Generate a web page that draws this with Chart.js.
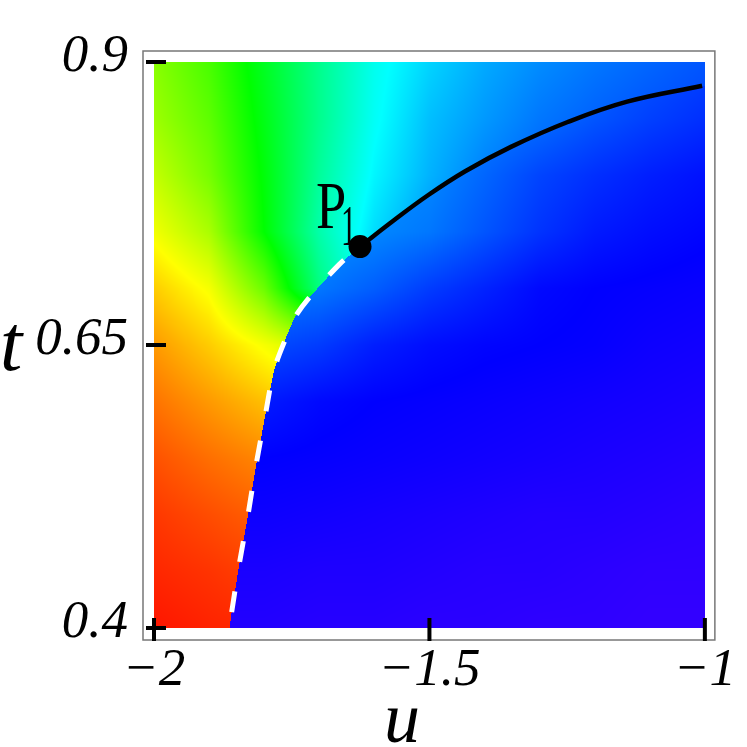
<!DOCTYPE html>
<html>
<head>
<meta charset="utf-8">
<script src="https://cdn.jsdelivr.net/npm/chart.js@4.4.1/dist/chart.umd.min.js"></script>
<style>
  body { margin: 0; background: #fff; }
  canvas { display: block; }
</style>
</head>
<body>
<canvas id="phaseChart" width="747" height="747"></canvas>
<script>
// axis ticks
const xTickValues = [-2, -1.5, -1];
const xTickLabels = ["\u22122", "\u22121.5", "\u22121"];
const yTickValues = [0.4, 0.65, 0.9];
const yTickLabels = ["0.4", "0.65", "0.9"];

// white dashed boundary, from bottom edge up to P1
const dashU = [-1.863, -1.859, -1.845, -1.830, -1.814, -1.798, -1.782, -1.760, -1.745, -1.718, -1.664, -1.626];
const dashT = [0.400, 0.414, 0.457, 0.498, 0.546, 0.588, 0.628, 0.657, 0.674, 0.692, 0.721, 0.737];

// black line, from P1 to the right edge
const lineU = [-1.626, -1.565, -1.502, -1.435, -1.352, -1.249, -1.141, -1.005];
const lineT = [0.737, 0.760, 0.7825, 0.8035, 0.825, 0.847, 0.865, 0.879];

// point P1
const p1U = -1.626;
const p1T = 0.737;

// colour field (hue in degrees) on a grid
const gridU = [-2, -1.9, -1.8, -1.7, -1.6, -1.5, -1.4, -1.3, -1.2, -1.1, -1];
const gridT = [0.9, 0.85, 0.8, 0.75, 0.7, 0.65, 0.6, 0.55, 0.5, 0.45, 0.4];

// above / left of the curve (the fan red -> yellow -> green -> cyan)
const hueFan = [
    [88, 103, 128, 153, 176, 190, 200, 207, 212, 216, 220],
    [83, 98, 125, 153, 178, 195, 204, 212, 217, 221, 224],
    [74, 92, 122, 156, 182, 198, 210, 218, 222, 226, 230],
    [63, 80, 120, 160, 188, 205, 215, 222, 228, 232, 236],
    [48, 62, 95, 150, 185, 205, 215, 222, 228, 232, 236],
    [36, 48, 62, 75, 160, 200, 210, 220, 226, 230, 234],
    [27, 36, 45, 55, 120, 200, 210, 220, 226, 230, 234],
    [19, 26, 32, 40, 80, 200, 210, 220, 226, 230, 234],
    [13, 18, 23, 30, 60, 200, 210, 220, 226, 230, 234],
    [9, 12, 16, 22, 45, 200, 210, 220, 226, 230, 234],
    [5, 8, 10, 15, 35, 200, 210, 220, 226, 230, 234]
];

// below / right of the curve (blue -> violet)
const hueBulk = [
    [200, 200, 200, 200, 200, 205, 208, 212, 215, 220, 224],
    [200, 200, 200, 200, 200, 205, 210, 214, 220, 225, 229],
    [205, 205, 205, 205, 205, 208, 216, 224, 229, 233, 236],
    [205, 205, 205, 205, 208, 212, 220, 228, 234, 237, 239],
    [210, 210, 210, 212, 218, 226, 232, 238, 240, 241, 242],
    [225, 225, 222, 226, 233, 237, 239, 240, 241, 243, 244],
    [234, 234, 234, 238, 240, 241, 242, 243, 244, 245, 246],
    [240, 240, 240, 241, 242, 243, 244, 245, 246, 247, 248],
    [243, 243, 243, 244, 245, 246, 247, 248, 248, 249, 250],
    [246, 246, 246, 247, 247, 248, 249, 249, 250, 251, 251],
    [248, 248, 248, 249, 249, 250, 250, 251, 251, 252, 252]
];

// hue -> rgb (full saturation and value)
function hueToRgb(h) {
    h = ((h % 360) + 360) % 360;
    const k = h / 60;
    const f = 255 * (1 - Math.abs((k % 2) - 1));
    if (k < 1) return [255, f, 0];
    if (k < 2) return [f, 255, 0];
    if (k < 3) return [0, 255, f];
    if (k < 4) return [0, f, 255];
    if (k < 5) return [f, 0, 255];
    return [255, 0, f];
}

function gridPos(arr, v) {
    let p = (v - arr[0]) / (arr[1] - arr[0]);
    return Math.max(0, Math.min(arr.length - 1.0001, p));
}

function sampleGrid(grid, u, t) {
    const fi = gridPos(gridU, u);
    const fj = gridPos(gridT, t);
    const i = Math.floor(fi), j = Math.floor(fj);
    const a = fi - i, b = fj - j;
    const top = grid[j][i] * (1 - a) + grid[j][i + 1] * a;
    const bot = grid[j + 1][i] * (1 - a) + grid[j + 1][i + 1] * a;
    return top * (1 - b) + bot * b;
}

// x position of the curve at a given pixel row
function curveX(curve, py) {
    if (py >= curve[0].py) return curve[0].px;
    if (py <= curve[curve.length - 1].py) return Infinity;
    for (let k = 0; k < curve.length - 1; k++) {
        const p = curve[k], q = curve[k + 1];
        if (py <= p.py && py >= q.py) {
            const s = (p.py - py) / (p.py - q.py);
            return p.px + s * (q.px - p.px);
        }
    }
    return Infinity;
}

// Vẽ nền màu
const heatmapPlugin = {
    id: "heatmap",
    beforeDatasetsDraw(chart) {
        const { ctx, chartArea: a, scales: { x, y } } = chart;
        const left = Math.round(a.left), top = Math.round(a.top);
        const w = Math.round(a.right) - left, h = Math.round(a.bottom) - top;
        const curveU = dashU.concat(lineU.slice(1));
        const curveT = dashT.concat(lineT.slice(1));
        const curve = curveU.map((u, k) => ({ px: x.getPixelForValue(u), py: y.getPixelForValue(curveT[k]) }));
        const img = ctx.createImageData(w, h);
        for (let j = 0; j < h; j++) {
            const py = top + j + 0.5;
            const t = y.getValueForPixel(py);
            const bx = curveX(curve, py);
            for (let i = 0; i < w; i++) {
                const px = left + i + 0.5;
                const u = x.getValueForPixel(px);
                const hue = sampleGrid(px < bx ? hueFan : hueBulk, u, t);
                const c = hueToRgb(hue);
                const o = (j * w + i) * 4;
                img.data[o] = c[0];
                img.data[o + 1] = c[1];
                img.data[o + 2] = c[2];
                img.data[o + 3] = 255;
            }
        }
        ctx.putImageData(img, left, top);
    }
};

// khung và vạch chia
const framePlugin = {
    id: "frame",
    afterDatasetsDraw(chart) {
        const { ctx, chartArea: a, scales: { x, y } } = chart;
        ctx.save();
        ctx.strokeStyle = "#777";
        ctx.lineWidth = 1.5;
        ctx.strokeRect(a.left - 11, a.top - 11, a.right - a.left + 21, a.bottom - a.top + 23);
        ctx.strokeStyle = "#000";
        ctx.lineWidth = 4;
        ctx.beginPath();
        yTickValues.forEach(v => {
            const py = y.getPixelForValue(v);
            ctx.moveTo(a.left - 8, py);
            ctx.lineTo(a.left + 12, py);
        });
        xTickValues.forEach(v => {
            const px = x.getPixelForValue(v);
            ctx.moveTo(px, a.bottom - 10);
            ctx.lineTo(px, a.bottom + 13);
        });
        ctx.stroke();
        ctx.restore();
    },
    afterDraw(chart) {
        const { ctx, scales: { x, y } } = chart;
        ctx.save();
        ctx.fillStyle = "#000";
        ctx.textAlign = "center";
        ctx.textBaseline = "alphabetic";
        ctx.font = 'italic 72px "Liberation Serif"';
        ctx.fillText("u", 402, 742);
        ctx.font = 'italic 80px "Liberation Serif"';
        ctx.fillText("t", 11, 370);

        // nhãn P1
        const px = x.getPixelForValue(p1U);
        const py = y.getPixelForValue(p1T);
        ctx.textAlign = "left";
        ctx.save();
        ctx.translate(px - 44, py - 19);
        ctx.scale(0.8, 1);
        ctx.font = '68px "Liberation Serif"';
        ctx.fillText("P", 0, 0);
        ctx.restore();
        ctx.save();
        ctx.translate(px - 19, py - 2);
        ctx.scale(0.55, 1);
        ctx.font = '56px "Liberation Serif"';
        ctx.fillText("1", 0, 0);
        ctx.restore();
        ctx.restore();
    }
};

const tickFont = { family: "Liberation Serif", style: "italic", size: 53 };

const chartCtx = document.getElementById("phaseChart").getContext("2d");
const phaseChart = new Chart(chartCtx, {
    type: "scatter",
    data: {
        datasets: [
            {
                label: "P1",
                data: [{ x: p1U, y: p1T }],
                pointRadius: 11.5,
                pointBackgroundColor: "#000",
                pointBorderWidth: 0,
                showLine: false
            },
            {
                label: "line",
                data: lineU.map((u, k) => ({ x: u, y: lineT[k] })),
                showLine: true,
                borderColor: "#000",
                borderWidth: 4.5,
                pointRadius: 0,
                tension: 0.4
            },
            {
                label: "dashed",
                data: dashU.map((u, k) => ({ x: u, y: dashT[k] })),
                showLine: true,
                borderColor: "#fff",
                borderWidth: 5,
                borderDash: [21, 30],
                borderDashOffset: 35,
                pointRadius: 0,
                tension: 0.3
            }
        ]
    },
    options: {
        responsive: false,
        animation: false,
        devicePixelRatio: 1,
        layout: { padding: { left: 0, top: 62, right: 39, bottom: 0 } },
        plugins: {
            legend: { display: false },
            tooltip: { enabled: false }
        },
        scales: {
            x: {
                type: "linear",
                min: -2,
                max: -1,
                afterFit: s => { s.height = 119; },
                afterBuildTicks: s => { s.ticks = xTickValues.map(v => ({ value: v })); },
                grid: { display: false, drawTicks: false },
                border: { display: false },
                ticks: {
                    padding: 11,
                    color: "#000",
                    font: tickFont,
                    maxRotation: 0,
                    autoSkip: false,
                    callback: v => xTickLabels[xTickValues.findIndex(t => Math.abs(t - v) < 1e-9)]
                }
            },
            y: {
                type: "linear",
                min: 0.4,
                max: 0.9,
                afterFit: s => { s.width = 154; },
                afterBuildTicks: s => { s.ticks = yTickValues.map(v => ({ value: v })); },
                grid: { display: false, drawTicks: false },
                border: { display: false },
                ticks: {
                    padding: 26,
                    labelOffset: -5,
                    color: "#000",
                    font: tickFont,
                    autoSkip: false,
                    callback: v => yTickLabels[yTickValues.findIndex(t => Math.abs(t - v) < 1e-9)]
                }
            }
        }
    },
    plugins: [heatmapPlugin, framePlugin]
});
</script>
</body>
</html>
